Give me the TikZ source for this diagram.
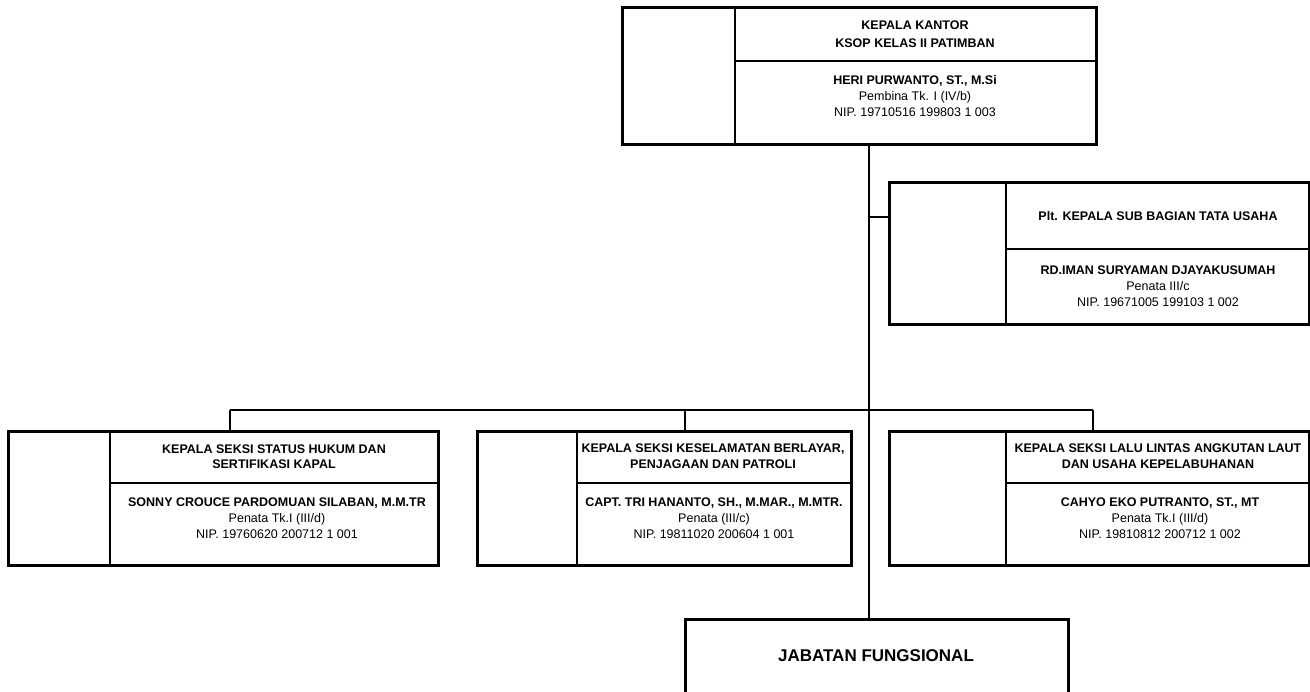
\documentclass[tikz,border=0pt]{standalone}
\usepackage{fontspec}
\setmainfont{Liberation Sans}
\begin{document}
\begin{tikzpicture}[x=1pt,y=-1pt,
  outerbox/.style={draw=black,line width=2.6pt,inner sep=0pt,anchor=north west,fill=white},
  divline/.style={draw=black,line width=1.2pt},
  conn/.style={draw=black,line width=1.2pt},
  ttl/.style={inner sep=0pt,align=center,font=\bfseries\fontsize{12.5}{15.5}\selectfont},
  ttltop/.style={inner sep=0pt,align=center,font=\bfseries\fontsize{12.5}{18}\selectfont},
  info/.style={inner sep=0pt,align=center,font=\fontsize{12.5}{16}\selectfont},
]
\useasboundingbox (0,0) rectangle (1310,692);

% connectors (drawn first, boxes on top)
\coordinate (trunkTop) at (869,143);
\coordinate (trunkBus) at (869,410);
\coordinate (busL) at (230,410);
\coordinate (busM) at (685,410);
\coordinate (busR) at (1093,410);
\coordinate (brTU) at (869,217);

% boxes
\node[outerbox,minimum width=474pt,minimum height=137pt] (top) at (621,6) {};
\node[outerbox,minimum width=420pt,minimum height=142pt] (tu) at (888,181) {};
\node[outerbox,minimum width=430pt,minimum height=134pt] (b1) at (7,430) {};
\node[outerbox,minimum width=374pt,minimum height=134pt] (b2) at (476,430) {};
\node[outerbox,minimum width=420pt,minimum height=134pt] (b3) at (888,430) {};
\node[outerbox,minimum width=383pt,minimum height=80pt] (jab) at (684,618) {};

\draw[conn] (top.south -| trunkTop) -- (jab.north -| trunkTop);
\draw[conn] (brTU) -- (brTU -| tu.west);
\draw[conn] (busL) -- (busR);
\draw[conn] (busL) -- (busL |- b1.north);
\draw[conn] (busM) -- (busM |- b2.north);
\draw[conn] (busR) -- (busR |- b3.north);

% inner dividers
\draw[divline] (735,0 |- top.north) -- (735,0 |- top.south);
\draw[divline] (735,61) -- (top.east |- 0,61);
\draw[divline] (1006,0 |- tu.north) -- (1006,0 |- tu.south);
\draw[divline] (1006,249) -- (tu.east |- 0,249);
\draw[divline] (110,0 |- b1.north) -- (110,0 |- b1.south);
\draw[divline] (110,483) -- (b1.east |- 0,483);
\draw[divline] (577,0 |- b2.north) -- (577,0 |- b2.south);
\draw[divline] (577,483) -- (b2.east |- 0,483);
\draw[divline] (1006,0 |- b3.north) -- (1006,0 |- b3.south);
\draw[divline] (1006,483) -- (b3.east |- 0,483);

% texts
\node[ttltop] (topT) at (915,34) {KEPALA KANTOR\\KSOP KELAS II PATIMBAN};
\node[info] (topN) at (915,96) {\textbf{HERI PURWANTO, ST., M.Si}\\Pembina Tk. I (IV/b)\\NIP. 19710516 199803 1 003};

\node[ttl] (tuT) at (1158,216) {Plt. KEPALA SUB BAGIAN TATA USAHA};
\node[info] (tuN) at (1158,286) {\textbf{RD.IMAN SURYAMAN DJAYAKUSUMAH}\\Penata III/c\\NIP. 19671005 199103 1 002};

\node[ttl] (b1T) at (274,456.5) {KEPALA SEKSI STATUS HUKUM DAN\\SERTIFIKASI KAPAL};
\node[info] (b1N) at (277,518) {\textbf{SONNY CROUCE PARDOMUAN SILABAN, M.M.TR}\\Penata Tk.I (III/d)\\NIP. 19760620 200712 1 001};

\node[ttl] (b2T) at (713,456) {KEPALA SEKSI KESELAMATAN BERLAYAR,\\PENJAGAAN DAN PATROLI};
\node[info] (b2N) at (714,518) {\textbf{CAPT. TRI HANANTO, SH., M.MAR., M.MTR.}\\Penata (III/c)\\NIP. 19811020 200604 1 001};

\node[ttl] (b3T) at (1158,456) {KEPALA SEKSI LALU LINTAS ANGKUTAN LAUT\\DAN USAHA KEPELABUHANAN};
\node[info] (b3N) at (1160,518) {\textbf{CAHYO EKO PUTRANTO, ST., MT}\\Penata Tk.I (III/d)\\NIP. 19810812 200712 1 002};

\node[inner sep=0pt,font=\bfseries\fontsize{17}{20}\selectfont] (jabT) at (876,656) {JABATAN FUNGSIONAL};
\end{tikzpicture}
\end{document}
